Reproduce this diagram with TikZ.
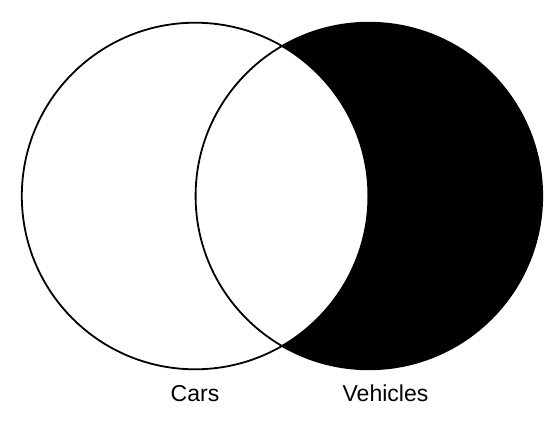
\documentclass[tikz,border=0pt]{standalone}
\usepackage{fontspec}
\setmainfont{Liberation Sans}
\usetikzlibrary{backgrounds}
\newcommand{\setcolor}{black}
\newcommand{\rad}{173.3pt}
\newcommand{\rim}{1.8pt}

\begin{document}
\begin{tikzpicture}[x=1pt,y=-1pt]
\useasboundingbox (0,0) rectangle (560,429);
\coordinate (cars) at (195.1,196);
\coordinate (vehicles) at (368.9,196);
%vehicles minus cars
\fill[\setcolor] (vehicles) circle (\rad);
\fill[white] (cars) circle (\rad);
%outlines
\draw[line width=\rim] (cars) circle (\rad);
\draw[line width=\rim] (vehicles) circle (\rad);
%labels
\node[anchor=base,font=\fontsize{23}{27}\selectfont] (carslabel) at (195,401) {Cars};
\node[anchor=base,font=\fontsize{23}{27}\selectfont] (vehicleslabel) at (385.5,401) {Vehicles};
\end{tikzpicture}
\end{document}
